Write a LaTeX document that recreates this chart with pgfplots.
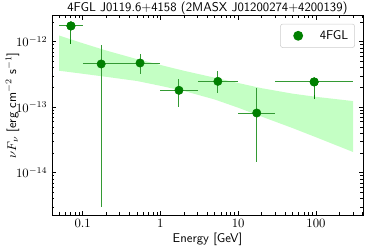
\documentclass[border=0pt]{standalone}
\usepackage{pgfplots}
\pgfplotsset{compat=1.18}
\usepackage{pgfplotstable}
\definecolor{mgreen}{RGB}{0,128,0}
\definecolor{bandgreen}{RGB}{196,255,196}

% detected points: E, nuFnu, x err minus/plus, y err minus/plus
\pgfplotstableread{
E y exm exp eym eyp
0.1732 4.57e-13 0.0732 0.1268 4.54e-13 4.33e-13
0.5477 4.73e-13 0.2477 0.4523 1.55e-13 1.67e-13
1.732 1.81e-13 0.732 1.268 0.79e-13 0.87e-13
5.477 2.48e-13 2.477 4.523 0.85e-13 1.09e-13
17.32 8.15e-14 7.32 12.68 6.71e-14 11.75e-14
}\det
% upper-limit style points
\pgfplotstableread{
E y exm exp eym eyp
0.0707 1.74e-12 0.0207 0.0293 0.74e-12 0
94.87 2.43e-13 64.87 205.13 1.01e-13 0
}\ul

\begin{document}
\begin{tikzpicture}
\begin{axis}[
  scale only axis, width=244.9pt, height=157.1pt,
  xmode=log, ymode=log,
  xmin=0.0403, xmax=402, ymin=2.26e-15, ymax=2.51e-12,
  xtick={0.1,1,10,100}, xticklabels={0.1,1,10,100},
  ytick={1e-14,1e-13,1e-12},
  minor xtick={0.05,0.06,0.07,0.08,0.09,0.2,0.3,0.4,0.5,0.6,0.7,0.8,0.9,2,3,4,5,6,7,8,9,20,30,40,50,60,70,80,90,200,300,400},
  minor ytick={3e-15,4e-15,5e-15,6e-15,7e-15,8e-15,9e-15,2e-14,3e-14,4e-14,5e-14,6e-14,7e-14,8e-14,9e-14,2e-13,3e-13,4e-13,5e-13,6e-13,7e-13,8e-13,9e-13,2e-12},
  tick align=inside, tick pos=both,
  major tick length=3.5pt, minor tick length=2pt,
  axis line style={line width=0.6pt},
  every tick/.style={black, line width=0.5pt},
  every axis title shift=0pt,
  title={4FGL J0119.6+4158 (2MASX J01200274+4200139)},
  title style={font=\sffamily, at={(0.5,1)}, anchor=base, yshift=2.8pt},
  xlabel={Energy [GeV]},
  xlabel style={font=\sffamily, at={(axis description cs:0.5,0)}, anchor=center, yshift=-18.9pt},
  ylabel={$\nu F_\nu$ [erg cm$^{-2}$ s$^{-1}$]},
  ylabel style={font=\sffamily, at={(axis description cs:-0.127,0.55)}, anchor=center, rotate=0},
  legend style={at={(1,1)}, anchor=north east, xshift=-6.3pt, yshift=-6.5pt,
    draw=black!20, rounded corners=2pt, font=\sffamily, inner xsep=3pt, inner ysep=3pt},
  legend image code/.code={\path[draw=none,fill=none] (0pt,0pt) -- (26pt,0pt); \fill[mgreen,draw=none] (11pt,0pt) circle (3.9pt);},
]
\addplot[fill=bandgreen, draw=none, forget plot] coordinates {
 (0.05,1.24e-12) (0.1,9.48e-13) (0.2,7.34e-13) (0.5,5.42e-13) (1,4.41e-13) (2,3.60e-13)
 (5,2.82e-13) (10,2.34e-13) (20,1.95e-13) (50,1.61e-13) (100,1.44e-13) (300,1.24e-13)
 (300,2.07e-14) (100,3.48e-14) (50,4.80e-14) (20,7.19e-14) (10,9.82e-14) (5,1.31e-13)
 (2,1.77e-13) (1,2.12e-13) (0.5,2.51e-13) (0.2,2.91e-13) (0.1,3.24e-13) (0.05,3.60e-13)
} -- cycle;

\addplot[only marks, mark=*, mark size=3.3pt, color=mgreen,
  error bars/.cd, x dir=both, x explicit, y dir=both, y explicit, error mark=none,
  error bar style={line width=0.75pt, mgreen!80!white}]
  table[x=E, y=y, x error plus=exp, x error minus=exm, y error plus=eyp, y error minus=eym]{\det};
\addlegendentry{4FGL}

\addplot[only marks, mark=*, mark size=3.3pt, color=mgreen, forget plot,
  error bars/.cd, y dir=minus, y explicit, error mark=-,
  error mark options={mark size=1.6pt, line width=0.75pt, mgreen},
  error bar style={line width=0.75pt, mgreen!85!white}]
  table[x=E, y=y, y error minus=eym]{\ul};
\addplot[only marks, mark=*, mark size=3.3pt, color=mgreen, forget plot,
  error bars/.cd, x dir=both, x explicit, error mark=none,
  error bar style={line width=0.75pt, mgreen!80!white}]
  table[x=E, y=y, x error plus=exp, x error minus=exm]{\ul};
\end{axis}
\pgfresetboundingbox
\path[use as bounding box] ([xshift=-40.9pt,yshift=-26.8pt]current axis.south west) rectangle ([xshift=8.7pt,yshift=12.2pt]current axis.north east);
\end{tikzpicture}
\end{document}
